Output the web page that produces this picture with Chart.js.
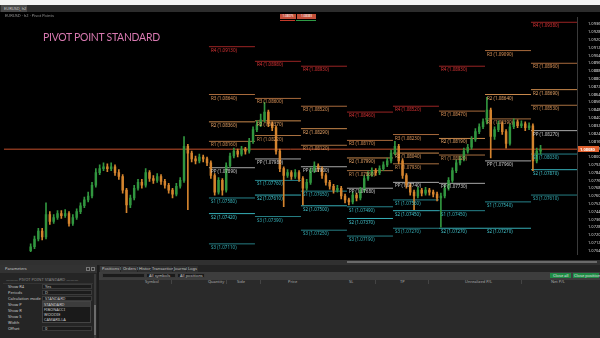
<!DOCTYPE html>
<html>
<head>
<meta charset="utf-8">
<script src="https://cdn.jsdelivr.net/npm/chart.js@4"></script>
<style>
  body { margin:0; width:600px; height:338px; overflow:hidden; background:#1c1c1c; position:relative; font-family:"Noto Sans", sans-serif; }
  .a { position:absolute; box-sizing:border-box; white-space:nowrap; }
  .t { font-size:4px; line-height:5px; color:#c8c8c8; }
  .row { font-size:4px; color:#c8c8c8; }
  .inp { background:#1b1b1b; border:1px solid #3a3a3a; }
</style>
</head>
<body>

<!-- window chrome -->
<div class="a" style="left:0;top:0;width:600px;height:5px;background:#f3f3f3"></div>
<div class="a" style="left:0;top:5px;width:600px;height:7px;background:#2c2c2c"></div>
<div class="a t" style="left:1px;top:5px;width:26px;height:7px;background:#4a4a4a;padding-left:3px;line-height:7px">EURUSD, h2</div>

<!-- chart -->
<div class="a" style="left:0;top:12px;width:600px;height:248px;background:#000">
  <canvas id="chart"></canvas>
</div>
<div class="a t" style="left:5px;top:13px;color:#9a9a9a">EURUSD · h2 · Pivot Points</div>
<div class="a" style="left:43px;top:29px;font-family:Lato;font-size:12px;color:#d879b0;letter-spacing:-0.3px;transform:scaleX(0.87);transform-origin:left top">PIVOT POINT STANDARD</div>
<div class="a t" style="left:280px;top:14px;width:16px;height:5px;background:#c4503a;color:#fff;font-size:3px;text-align:center">1.08075</div>
<div class="a t" style="left:297px;top:14px;width:19px;height:5px;background:#c4503a;color:#fff;font-size:3px;text-align:center">1.08083</div>
<div class="a" style="left:280px;top:20px;width:15px;height:1px;background:#c43a2a"></div>
<div class="a" style="left:296px;top:20px;width:20px;height:1px;background:#2e9a46"></div>

<!-- time scroll bar -->
<div class="a" style="left:0;top:260px;width:600px;height:5px;background:#303030"></div>
<div class="a" style="left:347px;top:261px;width:250px;height:2px;background:#6a6a6a"></div>

<!-- parameters panel -->
<div class="a" style="left:0;top:265px;width:97px;height:73px;background:#252525"></div>
<div class="a t" style="left:0;top:265px;width:97px;height:8px;background:#323232;padding-left:5px;line-height:8px">Parameters</div>
<div class="a" style="left:86px;top:267px;width:4px;height:4px;border:1px solid #777"></div>
<div class="a" style="left:91px;top:267px;width:4px;height:4px;border:1px solid #777"></div>
<div class="a t" style="left:6px;top:277px;color:#8a8a8a">——— PIVOT POINT STANDARD ———</div>
<div class="a" style="left:3px;top:283px;width:90px;height:1px;background:#333"></div>
<div class="a row" style="left:8px;top:284px">Show R4</div>
<div class="a row" style="left:8px;top:290px">Periods</div>
<div class="a row" style="left:8px;top:296px">Calculation mode</div>
<div class="a row" style="left:8px;top:302px">Show P</div>
<div class="a row" style="left:8px;top:308px">Show R</div>
<div class="a row" style="left:8px;top:314px">Show S</div>
<div class="a row" style="left:8px;top:320px">Width</div>
<div class="a row" style="left:8px;top:326px">Offset</div>
<div class="a inp row" style="left:42px;top:284px;width:50px;height:5px;line-height:4px;padding-left:2px">Yes</div>
<div class="a inp row" style="left:42px;top:290px;width:50px;height:5px;line-height:4px;padding-left:2px">D</div>
<div class="a inp row" style="left:42px;top:296px;width:50px;height:5px;line-height:4px;padding-left:2px">STANDARD</div>
<div class="a" style="left:42px;top:301px;width:49px;height:22px;background:#1a1a1a;border:1px solid #444"></div>
<div class="a row" style="left:43px;top:302px;width:47px;height:5px;background:#3c3c3c;padding-left:1px">STANDARD</div>
<div class="a row" style="left:44px;top:307px">FIBONACCI</div>
<div class="a row" style="left:44px;top:312px">WOODIE</div>
<div class="a row" style="left:44px;top:317px">CAMARILLA</div>
<div class="a inp row" style="left:42px;top:326px;width:50px;height:5px;line-height:4px;padding-left:2px">0</div>
<div class="a" style="left:94px;top:274px;width:2px;height:64px;background:#3a3a3a"></div>
<div class="a" style="left:94px;top:305px;width:2px;height:30px;background:#6c6c6c"></div>

<!-- trade panel -->
<div class="a" style="left:99px;top:265px;width:501px;height:73px;background:#2a2a2a"></div>
<div class="a" style="left:99px;top:265px;width:501px;height:7px;background:#232323"></div>
<div class="a t" style="left:100px;top:266px;width:20px;height:6px;background:#3a3a3a;padding-left:2px">Positions 0</div>
<div class="a t" style="left:121px;top:266px;width:16px;height:6px;background:#333;padding-left:2px">Orders 0</div>
<div class="a t" style="left:138px;top:266px;width:12px;height:6px;background:#2e2e2e;padding-left:1px">History</div>
<div class="a t" style="left:151px;top:266px;width:21px;height:6px;background:#2e2e2e;padding-left:1px">Transactions</div>
<div class="a t" style="left:173px;top:266px;width:13px;height:6px;background:#2e2e2e;padding-left:1px">Journal</div>
<div class="a t" style="left:187px;top:266px;width:11px;height:6px;background:#2e2e2e;padding-left:1px">Logs</div>
<div class="a" style="left:99px;top:272px;width:501px;height:8px;background:#3d3d3d"></div>
<div class="a inp t" style="left:102px;top:273px;width:43px;height:5px;line-height:4px"></div>
<div class="a inp t" style="left:146px;top:273px;width:30px;height:5px;line-height:4px;padding-left:2px">All symbols</div>
<div class="a inp t" style="left:177px;top:273px;width:28px;height:5px;line-height:4px;padding-left:2px">All positions</div>
<div class="a t" style="left:550px;top:273px;width:21px;height:5px;line-height:5px;background:#1f8a45;color:#e8e8e8;padding-left:3px">Close all</div>
<div class="a t" style="left:573px;top:273px;width:26px;height:5px;line-height:5px;background:#1f8a45;color:#e8e8e8;padding-left:1px">Close positions</div>
<div class="a t" style="left:145px;top:279px;color:#aaa">Symbol</div>
<div class="a t" style="left:208px;top:279px;color:#aaa">Quantity</div>
<div class="a t" style="left:237px;top:279px;color:#aaa">Side</div>
<div class="a t" style="left:288px;top:279px;color:#aaa">Price</div>
<div class="a t" style="left:349px;top:279px;color:#aaa">SL</div>
<div class="a t" style="left:400px;top:279px;color:#aaa">TP</div>
<div class="a t" style="left:465px;top:279px;color:#aaa">Unrealized P/L</div>
<div class="a t" style="left:551px;top:279px;color:#aaa">Net P/L</div>
<div class="a" style="left:171px;top:280px;width:1px;height:4px;background:#444"></div>
<div class="a" style="left:226px;top:280px;width:1px;height:4px;background:#444"></div>
<div class="a" style="left:260px;top:280px;width:1px;height:4px;background:#444"></div>
<div class="a" style="left:375px;top:280px;width:1px;height:4px;background:#444"></div>
<div class="a" style="left:428px;top:280px;width:1px;height:4px;background:#444"></div>
<div class="a" style="left:521px;top:280px;width:1px;height:4px;background:#444"></div>

<script>
// candles (2h bars), index = bar position on the time axis
const firstCandle = 7;
const firstOpen = 1.0704;
const closes = [
  1.0708,1.0716,1.0724,1.0718,1.0741,1.0734,1.0738,1.0742,1.0740,1.0742,
  1.0732,1.0738,1.0744,1.0750,1.0756,1.0760,1.0771,1.0784,1.0788,1.0790,
  1.0788,1.0790,1.0784,1.0780,1.0766,1.0751,1.0758,1.0768,1.0774,1.0771,
  1.0784,1.0778,1.0776,1.0780,1.0775,1.0771,1.0766,1.0762,1.0770,1.0776,
  1.0811,1.0804,1.0798,1.0796,1.0800,1.0798,1.0794,1.0781,1.0764,1.0776,
  1.0766,1.0791,1.0801,1.0806,1.0803,1.0808,1.0806,1.0816,1.0828,1.0833,
  1.0838,1.0846,1.0834,1.0830,1.0806,1.0788,1.0781,1.0784,1.0780,1.0784,
  1.0778,1.0768,1.0774,1.0786,1.0791,1.0788,1.0781,1.0774,1.0770,1.0766,
  1.0768,1.0760,1.0756,1.0754,1.0761,1.0758,1.0766,1.0778,1.0782,1.0786,
  1.0784,1.0788,1.0792,1.0796,1.0804,1.0811,1.0796,1.0781,1.0771,1.0764,
  1.0760,1.0766,1.0763,1.0766,1.0764,1.0762,1.0758,1.0760,1.0768,1.0776,
  1.0786,1.0794,1.0798,1.0806,1.0810,1.0818,1.0826,1.0831,1.0836,1.0848,
  1.0821,1.0828,1.0834,1.0826,1.0814,1.0831,1.0836,1.0832,1.0834,1.0830,
  1.0832,1.0796,1.0806,1.0808
];
const highs = [
  1.0711,1.0719,1.0727,1.0727,1.0753,1.0744,1.0741,1.0745,1.0745,1.0746,
  1.0744,1.0741,1.0747,1.0753,1.0759,1.0764,1.0774,1.0788,1.0792,1.0794,
  1.0793,1.0794,1.0792,1.0787,1.0782,1.0768,1.0761,1.0771,1.0777,1.0777,
  1.0788,1.0786,1.0781,1.0783,1.0782,1.0777,1.0773,1.0768,1.0773,1.0779,
  1.0821,1.0813,1.0806,1.0801,1.0803,1.0802,1.0800,1.0796,1.0783,1.0779,
  1.0778,1.0794,1.0804,1.0809,1.0808,1.0811,1.0810,1.0819,1.0831,1.0837,
  1.0844,1.0856,1.0848,1.0836,1.0832,1.0808,1.0790,1.0787,1.0786,1.0787,
  1.0786,1.0780,1.0777,1.0789,1.0795,1.0793,1.0790,1.0783,1.0776,1.0772,
  1.0771,1.0770,1.0762,1.0758,1.0764,1.0763,1.0769,1.0781,1.0785,1.0789,
  1.0788,1.0791,1.0795,1.0799,1.0807,1.0816,1.0813,1.0798,1.0783,1.0773,
  1.0766,1.0769,1.0768,1.0769,1.0768,1.0766,1.0764,1.0763,1.0771,1.0779,
  1.0789,1.0797,1.0801,1.0809,1.0813,1.0821,1.0829,1.0834,1.0839,1.0861,
  1.0850,1.0831,1.0837,1.0836,1.0828,1.0834,1.0839,1.0838,1.0837,1.0836,
  1.0835,1.0834,1.0809,1.0812
];
const lows = [
  1.0703,1.0706,1.0714,1.0715,1.0716,1.0731,1.0732,1.0736,1.0737,1.0738,
  1.0729,1.0730,1.0736,1.0742,1.0748,1.0754,1.0758,1.0769,1.0782,1.0786,
  1.0785,1.0786,1.0781,1.0777,1.0763,1.0743,1.0748,1.0756,1.0766,1.0768,
  1.0769,1.0775,1.0773,1.0774,1.0772,1.0768,1.0763,1.0758,1.0760,1.0768,
  1.0774,1.0746,1.0795,1.0793,1.0794,1.0795,1.0791,1.0778,1.0761,1.0762,
  1.0761,1.0764,1.0789,1.0799,1.0800,1.0801,1.0803,1.0804,1.0814,1.0826,
  1.0831,1.0836,1.0831,1.0827,1.0803,1.0785,1.0749,1.0779,1.0777,1.0778,
  1.0775,1.0751,1.0766,1.0772,1.0784,1.0785,1.0778,1.0771,1.0767,1.0763,
  1.0764,1.0757,1.0753,1.0751,1.0752,1.0755,1.0756,1.0764,1.0776,1.0780,
  1.0781,1.0782,1.0786,1.0790,1.0794,1.0802,1.0793,1.0778,1.0768,1.0761,
  1.0746,1.0758,1.0760,1.0761,1.0761,1.0759,1.0755,1.0728,1.0758,1.0766,
  1.0774,1.0784,1.0792,1.0796,1.0804,1.0808,1.0816,1.0824,1.0829,1.0834,
  1.0799,1.0818,1.0826,1.0823,1.0809,1.0812,1.0829,1.0830,1.0830,1.0827,
  1.0828,1.0786,1.0794,1.0803
];
const currentPrice = 1.0808;

// daily pivot levels, one value per day
const periodStart = 53.5;
const periodLen = 12;
const r4 = [1.0913, 1.0898, 1.0893, 1.0846, 1.0852, 1.0893, null,   1.0938];
const r3 = [1.0864, 1.0860, 1.0852, 1.0817, 1.0823, 1.0847, 1.0909, 1.0896];
const r2 = [1.0836, 1.0837, 1.0829, 1.0799, 1.0804, 1.0819, 1.0864, 1.0869];
const r1 = [1.0816, 1.0822, 1.0812, 1.0786, 1.0793, 1.0802, 1.0839, 1.0853];
const pp = [1.0789, 1.0798, 1.0790, 1.0768, 1.0774, 1.0773, 1.0796, 1.0827];
const s1 = [1.0758, 1.0776, 1.0765, 1.0749, 1.0756, 1.0745, 1.0754, 1.0803];
const s2 = [1.0742, 1.0761, 1.0750, 1.0737, 1.0745, 1.0727, 1.0727, 1.0787];
const s3 = [1.0711, 1.0739, 1.0725, 1.0719, 1.0727, null,   null,   1.0761];

const timeLabels = [
  '14 Jun 17:00','15 Jun 07:00','15 Jun 21:00','16 Jun 11:00','17 Jun 01:00','17 Jun 15:00',
  '18 Jun 05:00','18 Jun 19:00','19 Jun 09:00','19 Jun 23:00','20 Jun 13:00','21 Jun 03:00',
  '21 Jun 17:00','22 Jun 07:00','22 Jun 21:00','23 Jun 11:00','24 Jun 01:00','24 Jun 15:00',
  '25 Jun 05:00','25 Jun 19:00','26 Jun 09:00','26 Jun 23:00'
];

const levels = [
  { name: 'R4', values: r4, line: '#9a2424', text: '#dc3436' },
  { name: 'R3', values: r3, line: '#a86a3c', text: '#e0965a' },
  { name: 'R2', values: r2, line: '#c8884c', text: '#eaa668' },
  { name: 'R1', values: r1, line: '#a87040', text: '#dc985c' },
  { name: 'PP', values: pp, line: '#a8a8a8', text: '#d0d0d0' },
  { name: 'S1', values: s1, line: '#26828a', text: '#3abcc4' },
  { name: 'S2', values: s2, line: '#36afb8', text: '#44c8d0' },
  { name: 'S3', values: s3, line: '#267e84', text: '#36b0b8' },
];

const X_MAX = 149.5;
const candleX = closes.map((_, k) => firstCandle + k);
const opens = closes.map((c, k) => k ? closes[k - 1] : firstOpen);
const candleColor = closes.map((c, k) => c >= opens[k] ? '#31963f' : '#d4842e');

function levelData(values) {
    const pts = [];
    values.forEach((v, k) => {
        if (v == null) return;
        const x0 = periodStart + k * periodLen;
        pts.push({ x: x0, y: v }, { x: x0 + periodLen, y: v }, { x: x0 + periodLen, y: null });
    });
    return pts;
}

// level captions + current price tag
const pivotLabels = {
    id: 'pivotLabels',
    afterDatasetsDraw(chart) {
        const { ctx, chartArea: a, scales: { x, y } } = chart;
        ctx.save();
        ctx.beginPath();
        ctx.rect(a.left, a.top, a.right - a.left, a.bottom - a.top);
        ctx.clip();
        ctx.font = '4.5px "Noto Sans"';
        ctx.textBaseline = 'top';
        ctx.textAlign = 'left';
        levels.forEach(lv => lv.values.forEach((v, k) => {
            if (v == null) return;
            ctx.fillStyle = lv.text;
            ctx.fillText(`${lv.name} (${v.toFixed(5)})`,
                x.getPixelForValue(periodStart + k * periodLen) + 2, y.getPixelForValue(v) + 1.5);
        }));
        ctx.restore();

        const py = Math.round(y.getPixelForValue(currentPrice));
        ctx.save();
        ctx.fillStyle = '#e0602e';
        ctx.fillRect(a.right + 1, py - 3, 21, 6);
        ctx.fillStyle = '#fff';
        ctx.font = 'bold 4px "Noto Sans"';
        ctx.textBaseline = 'middle';
        ctx.fillText(currentPrice.toFixed(5), a.right + 3, py + 0.5);
        ctx.restore();
    }
};

new Chart(document.getElementById('chart'), {
    type: 'bar',
    data: {
        datasets: [
            {
                type: 'line', data: [{ x: 0, y: currentPrice }, { x: X_MAX, y: currentPrice }],
                borderColor: '#c4502c', borderWidth: 1, pointRadius: 0, order: 3,
            },
            ...levels.map(lv => ({
                type: 'line', data: levelData(lv.values), borderColor: lv.line,
                borderWidth: 1, pointRadius: 0, spanGaps: false, order: 2,
            })),
            {
                data: candleX.map((x, k) => ({ x, y: [lows[k], highs[k]] })),
                backgroundColor: candleColor, barThickness: 1, grouped: false, order: 1,
            },
            {
                data: candleX.map((x, k) => ({ x, y: [opens[k], closes[k]] })),
                backgroundColor: candleColor, barThickness: 1.8, minBarLength: 1, grouped: false, order: 0,
            },
        ],
    },
    options: {
        responsive: true,
        maintainAspectRatio: false,
        animation: false,
        layout: { padding: { left: 3, top: 1, right: 0, bottom: 0 } },
        plugins: { legend: { display: false }, tooltip: { enabled: false } },
        scales: {
            x: {
                type: 'linear', min: 0, max: X_MAX, offset: false,
                grid: { display: false },
                border: { display: false },
                afterBuildTicks: s => { s.ticks = timeLabels.map((_, k) => ({ value: 2 + 7 * k })); },
                afterFit: s => { s.height = 4; },
                ticks: {
                    autoSkip: false, maxRotation: 0, padding: 0,
                    color: '#bdbdbd', font: { size: 4, family: 'Noto Sans' },
                    callback: (v, k) => timeLabels[k],
                },
            },
            y: {
                position: 'right', min: 1.0700, max: 1.0943,
                grid: { display: false },
                border: { color: '#3a3a3a' },
                afterFit: s => { s.width = 23; },
                ticks: {
                    stepSize: 0.0008, includeBounds: false, autoSkip: false, padding: 3,
                    color: '#d8d8d8', font: { size: 4, family: 'Noto Sans' },
                    callback: v => v.toFixed(5),
                },
            },
        },
    },
    plugins: [pivotLabels],
});
</script>
</body>
</html>
